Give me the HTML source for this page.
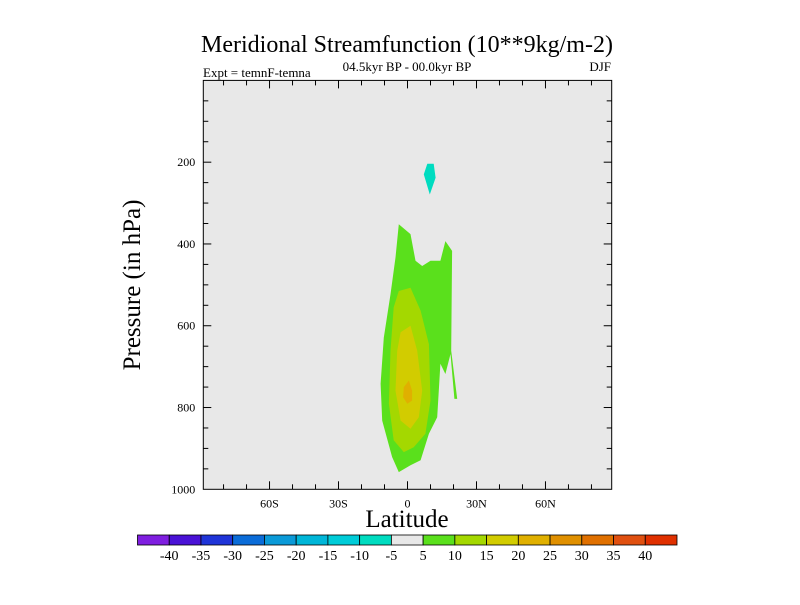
<!DOCTYPE html>
<html><head><meta charset="utf-8"><style>
body{margin:0;background:#fff;}
svg text{font-family:"Liberation Serif",serif;}
</style></head><body>
<svg id="chart" width="800" height="600" viewBox="0 0 800 600">
<text x="407" y="52" font-size="24" text-anchor="middle">Meridional Streamfunction (10**9kg/m-2)</text>
<text x="203" y="77" font-size="13">Expt = temnF-temna</text>
<text x="407" y="71" font-size="13" text-anchor="middle">04.5kyr BP - 00.0kyr BP</text>
<text x="611" y="71" font-size="13" text-anchor="end">DJF</text>
<rect x="203.3" y="80.4" width="408.4" height="408.9" fill="#e8e8e8"/>
<g id="contours"></g>
<g id="axes"></g>
<rect x="203.3" y="80.4" width="408.4" height="408.9" fill="none" stroke="#000" stroke-width="1"/>
<text x="140" y="285" font-size="25" text-anchor="middle" transform="rotate(-90 140 285)">Pressure (in hPa)</text>
<text x="407" y="527" font-size="25" text-anchor="middle">Latitude</text>
<g id="colorbar"></g>
</svg>
<script>
const latTicks=[-60,-30,0,30,60];
const latLabels=["60S","30S","0","30N","60N"];
const presTicks=[200,400,600,800,1000];
const levelLabels=[-40,-35,-30,-25,-20,-15,-10,-5,5,10,15,20,25,30,35,40];
const levelColors=["#7f1ee0","#4a12d6","#1f34d8","#0a6cd8","#0a9ad8","#00b6d8","#00ccd8","#00dcc0","#e8e8e8","#5ae01c","#a4d800","#d2cc00","#e0b000","#e09000","#e07000","#e05010","#e03000"];
const contourColors=["#00dcc0","#5ae01c","#a4d800","#d2cc00","#e0b000"];
const cyanLat=[8.6,11.4,12.2,9.7,7.1];
const cyanP=[204,204,238,279,230];
const greenLat=[-3.8,1.3,3.5,6.4,10,14.3,16.5,19.4,19,21.6,20.4,18.7,16.5,14.3,12.9,9.3,5.7,1.3,-3.8,-6.7,-11,-11.7,-10.3,-7.4,-5.2];
const greenP=[352,376,441,454,441,441,393,417,661,779,779,669,718,693,824,864,929,941,958,921,832,742,629,523,433];
const ygLat=[-3.8,1.3,5.7,9.3,10,7.8,2.7,-1.6,-6,-8.1,-7.4,-6];
const ygP=[515,507,563,645,783,864,897,909,880,791,661,555];
const yelLat=[-3,1.3,4.2,6.4,4.9,1.3,-3,-5.2,-4.5];
const yelP=[616,600,661,759,824,852,832,759,661];
const orLat=[0.6,2,2,-0.1,-1.9,-1.6];
const orP=[734,759,783,791,775,750];

const NS="http://www.w3.org/2000/svg";
const X0=203.3,X1=611.7,LATMIN=-88.8,LATMAX=88.8;
const Y0=80.4,Y1=489.3,PMIN=0,PMAX=1000;
function xs(lat){return X0+(lat-LATMIN)/(LATMAX-LATMIN)*(X1-X0);}
function ys(p){return Y0+(p-PMIN)/(PMAX-PMIN)*(Y1-Y0);}
function el(t,a,parent){const e=document.createElementNS(NS,t);for(const k in a)e.setAttribute(k,a[k]);parent.appendChild(e);return e;}

const cg=document.getElementById('contours');
const polys=[[greenLat,greenP,1,'contour-5-10'],[ygLat,ygP,2,'contour-10-15'],[yelLat,yelP,3,'contour-15-20'],[orLat,orP,4,'contour-20-25'],[cyanLat,cyanP,0,'contour-neg10-neg5']];
polys.forEach(([la,pr,ci,name])=>{
  const pts=la.map((v,i)=>xs(v).toFixed(1)+','+ys(pr[i]).toFixed(1)).join(' ');
  const p=el('polygon',{points:pts,fill:contourColors[ci]},cg);
  
  
});

const ag=document.getElementById('axes');
for(let lat=-80;lat<=80;lat+=10){
  const major=lat%30===0;const len=major?8:5;const x=xs(lat);
  const t1=el('line',{x1:x,y1:Y1,x2:x,y2:Y1-len,stroke:'#000'},ag);
  
  
  const t2=el('line',{x1:x,y1:Y0,x2:x,y2:Y0+len,stroke:'#000'},ag);
  
  
}
latTicks.forEach((v,i)=>{
  const t=el('text',{x:xs(v),y:Y1+18,'font-size':12,'text-anchor':'middle'},ag);
  t.textContent=latLabels[i];
  
  
});
for(let p=50;p<1000;p+=50){
  const major=p%200===0;const len=major?8:5;const y=ys(p);
  const t1=el('line',{x1:X0,y1:y,x2:X0+len,y2:y,stroke:'#000'},ag);
  
  
  const t2=el('line',{x1:X1,y1:y,x2:X1-len,y2:y,stroke:'#000'},ag);
  
  
}
presTicks.forEach(v=>{
  const t=el('text',{x:X0-8,y:ys(v)+4,'font-size':12,'text-anchor':'end'},ag);
  t.textContent=v;
  
  
});

const cb=document.getElementById('colorbar');
const CBX=137.5,CBW=539.5,CBY=535,CBH=10,bw=CBW/levelColors.length;
levelColors.forEach((c,i)=>{
  const r=el('rect',{x:CBX+i*bw,y:CBY,width:bw,height:CBH,fill:c,stroke:'#000','stroke-width':0.8},cb);
  
  
});
levelLabels.forEach((v,i)=>{
  const t=el('text',{x:CBX+(i+1)*bw,y:CBY+CBH+15,'font-size':14,'text-anchor':'middle'},cb);
  t.textContent=v;
  
  
});
</script>
</body></html>
